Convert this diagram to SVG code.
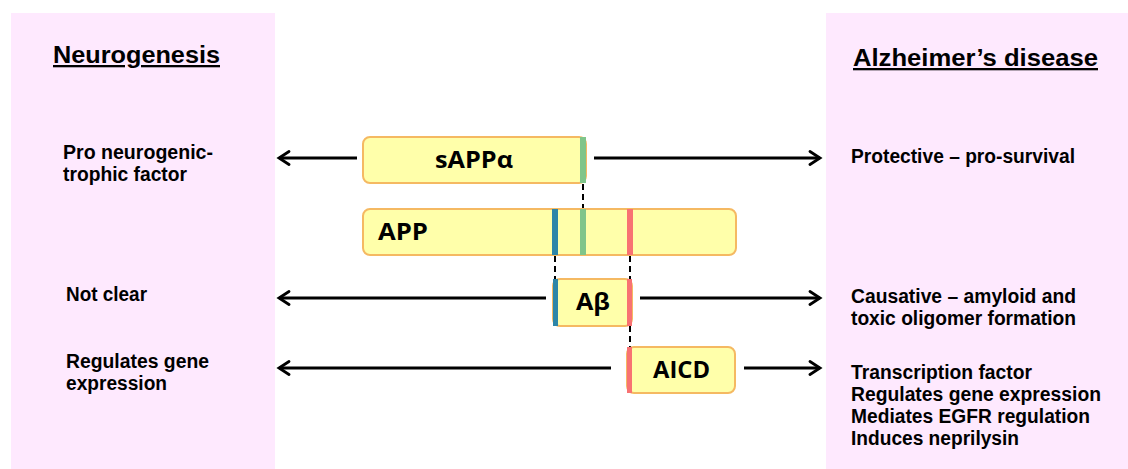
<svg xmlns="http://www.w3.org/2000/svg" width="1128" height="469" viewBox="0 0 1128 469">
  <defs>
    <marker id="head" viewBox="0 0 16 16" refX="13" refY="8" markerWidth="16" markerHeight="16" markerUnits="userSpaceOnUse" orient="auto">
      <path d="M3,1.5 L13,8 L3,14.5" fill="none" stroke="#000" stroke-width="2.8" stroke-linecap="round" stroke-linejoin="miter"/>
    </marker>
    <style>
      .panel { fill: #FEE9FE; }
      .title { font-family: "Liberation Sans", Arial, sans-serif; font-size: 23px; font-weight: bold; text-decoration: underline; fill: #000; }
      .lbl { font-family: "Liberation Sans", Arial, sans-serif; font-size: 19.5px; font-weight: bold; fill: #000; }
      .frag { fill: #FFFFAA; stroke: #F5B962; stroke-width: 2; }
      .ftxt { font-family: "Open Sans", "Liberation Sans", sans-serif; font-size: 24px; font-weight: bold; fill: #000; }
      .arrow { stroke: #000; stroke-width: 3; fill: none; marker-end: url(#head); }
      .cut { stroke: #000; stroke-width: 2; stroke-dasharray: 6 4; fill: none; }
      .green { fill: #80C58A; }
      .blue { fill: #2E86A8; }
      .red { fill: #F87272; }
    </style>
  </defs>

  <rect width="1128" height="469" fill="#fff"/>

  <!-- side panels -->
  <g id="panel-neurogenesis">
    <rect class="panel" x="11" y="13" width="264" height="456"/>
    <text class="title" x="53" y="63" textLength="167" lengthAdjust="spacingAndGlyphs">Neurogenesis</text>
    <text class="lbl" x="63" y="159" textLength="150" lengthAdjust="spacingAndGlyphs">Pro neurogenic-</text>
    <text class="lbl" x="63" y="181" textLength="124" lengthAdjust="spacingAndGlyphs">trophic factor</text>
    <text class="lbl" x="66" y="301" textLength="81" lengthAdjust="spacingAndGlyphs">Not clear</text>
    <text class="lbl" x="66" y="368" textLength="143" lengthAdjust="spacingAndGlyphs">Regulates gene</text>
    <text class="lbl" x="66" y="390" textLength="101" lengthAdjust="spacingAndGlyphs">expression</text>
  </g>

  <g id="panel-alzheimers">
    <rect class="panel" x="826" y="13" width="302" height="456"/>
    <text class="title" x="853" y="66" textLength="245" lengthAdjust="spacingAndGlyphs">Alzheimer’s disease</text>
    <text class="lbl" x="851" y="163" textLength="224" lengthAdjust="spacingAndGlyphs">Protective – pro-survival</text>
    <text class="lbl" x="851" y="303" textLength="225" lengthAdjust="spacingAndGlyphs">Causative – amyloid and</text>
    <text class="lbl" x="851" y="325" textLength="225" lengthAdjust="spacingAndGlyphs">toxic oligomer formation</text>
    <text class="lbl" x="851" y="379" textLength="181" lengthAdjust="spacingAndGlyphs">Transcription factor</text>
    <text class="lbl" x="851" y="401" textLength="250" lengthAdjust="spacingAndGlyphs">Regulates gene expression</text>
    <text class="lbl" x="851" y="423" textLength="239" lengthAdjust="spacingAndGlyphs">Mediates EGFR regulation</text>
    <text class="lbl" x="851" y="445" textLength="168" lengthAdjust="spacingAndGlyphs">Induces neprilysin</text>
  </g>

  <!-- arrows and cleavage lines -->
  <g id="connectors">
    <line class="arrow" x1="357" y1="158" x2="279" y2="158"/>
    <line class="arrow" x1="594" y1="158" x2="820" y2="158"/>
    <line class="arrow" x1="546" y1="298" x2="279" y2="298"/>
    <line class="arrow" x1="640" y1="298" x2="820" y2="298"/>
    <line class="arrow" x1="611" y1="368" x2="279" y2="368"/>
    <line class="arrow" x1="744" y1="368" x2="820" y2="368"/>
    <line class="cut" x1="583" y1="184" x2="583" y2="232"/>
    <line class="cut" x1="555" y1="256" x2="555" y2="280"/>
    <line class="cut" x1="630" y1="256" x2="630" y2="356"/>
  </g>

  <!-- APP and its fragments -->
  <g id="sAPPa">
    <rect class="frag" x="363" y="137" width="223" height="46" rx="7"/>
    <rect class="green" x="580" y="137" width="6" height="46"/>
    <text class="ftxt" x="435" y="168" textLength="78" lengthAdjust="spacingAndGlyphs">sAPPα</text>
  </g>

  <g id="APP">
    <rect class="frag" x="363" y="209" width="373" height="46" rx="7"/>
    <rect class="blue" x="552" y="209" width="6" height="46"/>
    <rect class="green" x="580" y="209" width="6" height="46"/>
    <rect class="red" x="627" y="209" width="6" height="46"/>
    <text class="ftxt" x="378" y="240" textLength="50" lengthAdjust="spacingAndGlyphs">APP</text>
  </g>

  <g id="Abeta">
    <rect class="frag" x="553" y="279" width="79" height="47" rx="7"/>
    <rect class="blue" x="553" y="279" width="5" height="47"/>
    <rect class="red" x="627" y="279" width="5" height="47"/>
    <text class="ftxt" x="576" y="310" textLength="34" lengthAdjust="spacingAndGlyphs">Aβ</text>
  </g>

  <g id="AICD">
    <rect class="frag" x="627" y="347" width="108" height="46" rx="7"/>
    <rect class="red" x="627" y="347" width="5" height="46"/>
    <text class="ftxt" x="653" y="378" textLength="57" lengthAdjust="spacingAndGlyphs">AICD</text>
  </g>
</svg>
